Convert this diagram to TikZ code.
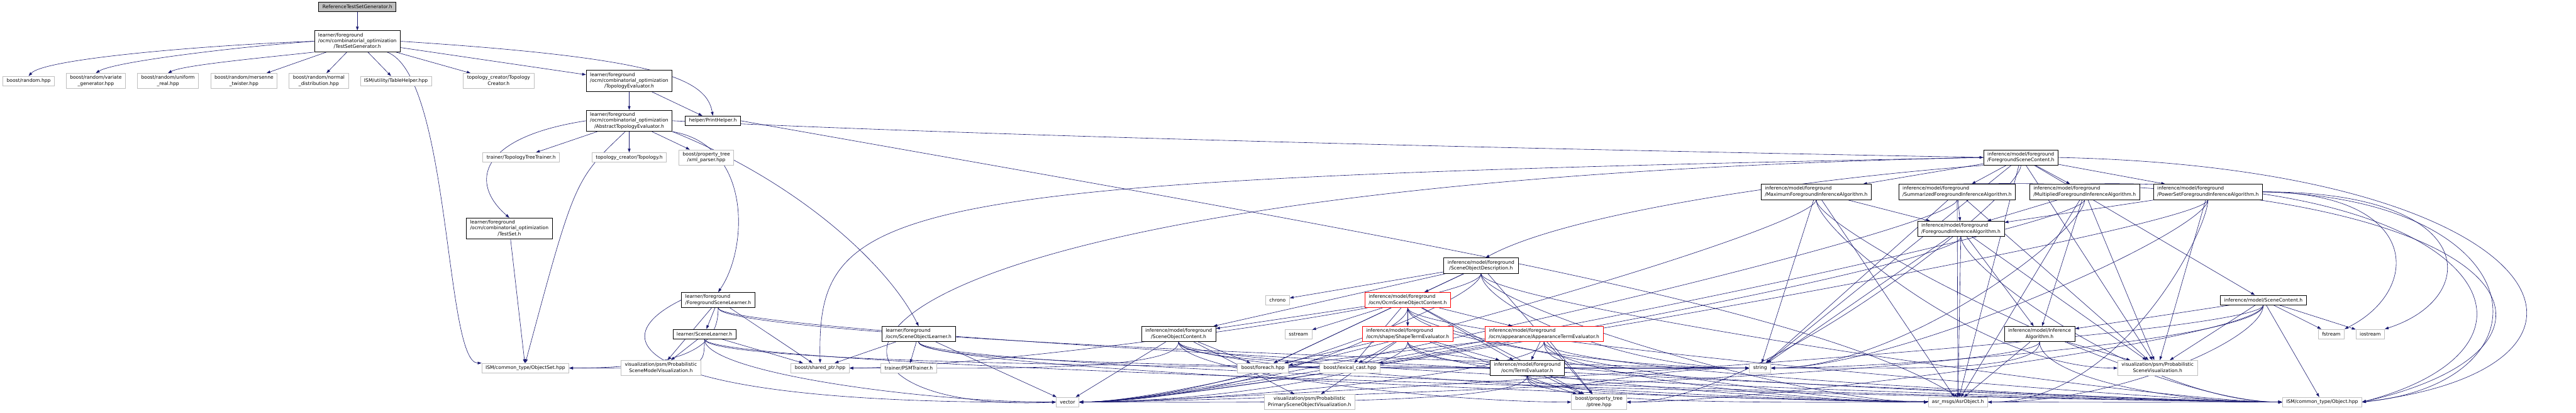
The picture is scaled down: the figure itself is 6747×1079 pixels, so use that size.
\documentclass[tikz,border=0pt]{standalone}
\usepackage{fontspec}
\setmainfont{DejaVu Sans}
\usetikzlibrary{arrows.meta,backgrounds}
\definecolor{ink}{HTML}{000000}
\definecolor{edgeblue}{HTML}{191970}
\definecolor{extgray}{HTML}{BFBFBF}
\definecolor{cutred}{HTML}{FF0000}
\newcommand{\fpath}[2]{\begin{tabular}{@{}l@{}}#1\\\multicolumn{1}{@{}c@{}}{#2}\end{tabular}}
\newcommand{\cpath}[1]{\begin{tabular}{@{}c@{}}#1\end{tabular}}
\tikzset{
  file/.style={draw=ink, line width=1.3pt, fill=white, inner xsep=10pt, inner ysep=4.5pt, minimum height=25pt, font=\fontsize{12.5}{15.5}\selectfont},
  extfile/.style={file, draw=extgray},
  cutfile/.style={file, draw=cutred},
  rootfile/.style={file, fill=extgray},
  dep/.style={-{Triangle[length=10pt,width=7pt]}, draw=edgeblue, line width=1pt},
  fromleft/.style={dep, to path={.. controls +(0,-100) and +(-#1,0) .. (\tikztotarget)}},
  fromleft/.default=350,
  fromright/.style={dep, to path={.. controls +(0,-100) and +(#1,0) .. (\tikztotarget)}},
  fromright/.default=350
}

\begin{document}
\begin{tikzpicture}[x=1pt, y=1pt]
  \useasboundingbox (0,0) rectangle (6747,-1079);

  % include tree of the test set generator
  \node[rootfile] (gen) at (936,-18) {ReferenceTestSetGenerator.h};
  \node[file] (tsgen) at (936,-108) {\fpath{learner/foreground\\/ocm/combinatorial\_optimization}{/TestSetGenerator.h}};
  \node[extfile] (brand) at (75,-212) {boost/random.hpp};
  \node[extfile] (bvar) at (251,-212) {\cpath{boost/random/variate\\\_generator.hpp}};
  \node[extfile] (buni) at (440,-212) {\cpath{boost/random/uniform\\\_real.hpp}};
  \node[extfile] (bmer) at (639,-212) {\cpath{boost/random/mersenne\\\_twister.hpp}};
  \node[extfile] (bnorm) at (835,-212) {\cpath{boost/random/normal\\\_distribution.hpp}};
  \node[extfile] (tblh) at (1037,-212) {ISM/utility/TableHelper.hpp};
  \node[extfile] (tcreat) at (1306,-212) {\cpath{topology\_creator/Topology\\Creator.h}};
  \node[file] (toeval) at (1648,-212) {\fpath{learner/foreground\\/ocm/combinatorial\_optimization}{/TopologyEvaluator.h}};
  \node[file] (abseval) at (1648,-316) {\fpath{learner/foreground\\/ocm/combinatorial\_optimization}{/AbstractTopologyEvaluator.h}};
  \node[file] (prnth) at (1867,-316) {helper/PrintHelper.h};
  \node[extfile] (tttr) at (1365,-412) {trainer/TopologyTreeTrainer.h};
  \node[extfile] (topo) at (1648,-412) {topology\_creator/Topology.h};
  \node[extfile] (xmlp) at (1850,-412) {\cpath{boost/property\_tree\\/xml\_parser.hpp}};
  \node[file] (tset) at (1334,-598) {\fpath{learner/foreground\\/ocm/combinatorial\_optimization}{/TestSet.h}};
  \node[extfile] (objset) at (1376,-963) {ISM/common\_type/ObjectSet.hpp};

  % learners
  \node[file] (fsclearn) at (1881,-785) {\fpath{learner/foreground}{/ForegroundSceneLearner.h}};
  \node[file] (sclearn) at (1845,-874) {learner/SceneLearner.h};
  \node[extfile] (psmvis) at (1731,-963) {\cpath{visualization/psm/Probabilistic\\SceneModelVisualization.h}};
  \node[extfile] (shptr) at (2148,-963) {boost/shared\_ptr.hpp};
  \node[file] (sobjlearn) at (2406,-874) {\fpath{learner/foreground}{/ocm/SceneObjectLearner.h}};
  \node[extfile] (psmtr) at (2380,-963) {trainer/PSMTrainer.h};
  \node[extfile] (vec) at (2796,-1052) {vector};

  % scene object content
  \node[file] (socont) at (3087,-874) {\fpath{inference/model/foreground}{/SceneObjectContent.h}};
  \node[extfile] (chrono) at (3346,-785) {chrono};
  \node[cutfile] (ocmsoc) at (3687,-785) {\fpath{inference/model/foreground}{/ocm/OcmSceneObjectContent.h}};
  \node[extfile] (sstr) at (3401,-874) {sstream};
  \node[cutfile] (shapete) at (3687,-874) {\fpath{inference/model/foreground}{/ocm/shape/ShapeTermEvaluator.h}};
  \node[extfile] (bforeach) at (3308,-963) {boost/foreach.hpp};
  \node[extfile] (lexcast) at (3536,-963) {boost/lexical\_cast.hpp};
  \node[extfile] (ppsovis) at (3430,-1052) {\cpath{visualization/psm/Probabilistic\\PrimarySceneObjectVisualization.h}};
  \node[file] (sodesc) at (3879,-695) {\fpath{inference/model/foreground}{/SceneObjectDescription.h}};
  \node[cutfile] (appte) at (4044,-874) {\fpath{inference/model/foreground}{/ocm/appearance/AppearanceTermEvaluator.h}};
  \node[file] (termev) at (4000,-963) {\fpath{inference/model/foreground}{/ocm/TermEvaluator.h}};
  \node[extfile] (ptree) at (4188,-1052) {\cpath{boost/property\_tree\\/ptree.hpp}};

  % inference algorithms
  \node[file] (fgsc) at (5293,-412) {\fpath{inference/model/foreground}{/ForegroundSceneContent.h}};
  \node[file] (maxfia) at (4757,-502) {\fpath{inference/model/foreground}{/MaximumForegroundInferenceAlgorithm.h}};
  \node[file] (sumfia) at (5126,-502) {\fpath{inference/model/foreground}{/SummarizedForegroundInferenceAlgorithm.h}};
  \node[file] (mulfia) at (5460,-502) {\fpath{inference/model/foreground}{/MultipliedForegroundInferenceAlgorithm.h}};
  \node[file] (psetfia) at (5783,-502) {\fpath{inference/model/foreground}{/PowerSetForegroundInferenceAlgorithm.h}};
  \node[file] (fia) at (5136,-599) {\fpath{inference/model/foreground}{/ForegroundInferenceAlgorithm.h}};
  \node[file] (infalg) at (5342,-874) {\cpath{inference/model/Inference\\Algorithm.h}};
  \node[file] (sccont) at (5928,-785) {inference/model/SceneContent.h};
  \node[extfile] (str) at (4610,-963) {string};
  \node[extfile] (asrobj) at (5128,-1052) {asr\_msgs/AsrObject.h};
  \node[extfile] (psvis) at (5651,-963) {\cpath{visualization/psm/Probabilistic\\SceneVisualization.h}};
  \node[extfile] (ismobj) at (6082,-1052) {ISM/common\_type/Object.hpp};
  \node[extfile] (fstr) at (6106,-874) {fstream};
  \node[extfile] (iostr) at (6208,-874) {iostream};

  \begin{scope}[on background layer]
    \fill[white] (0,0) rectangle (6747,-1079);
    % top tree
    \draw[dep] (gen) -- (tsgen);
    \draw[dep] (tsgen.west) .. controls (600,-115) and (120,-150) .. (brand.north);
    \draw[dep] (tsgen.west) .. controls (650,-120) and (300,-160) .. (bvar.north);
    \draw[dep] (tsgen.south west) .. controls (700,-150) and (480,-170) .. (buni.north);
    \path (tsgen) edge[dep] (bmer) edge[dep] (bnorm) edge[dep] (tblh) edge[dep] (tcreat) edge[dep] (toeval);
    \draw[dep] (tsgen.east) .. controls (1700,-150) and (1850,-200) .. (prnth.north);
    \draw[dep] (tsgen.-20) .. controls (1180,-200) and (1165,-950) .. (objset.north west);
    \path (toeval) edge[dep] (abseval) edge[dep] (prnth);
    \path (abseval) edge[dep] (tttr) edge[dep] (topo) edge[dep] (xmlp);
    \draw[dep] (abseval.west) .. controls (1250,-360) and (1230,-480) .. (tset.north);
    \draw[dep] (abseval.250) .. controls (1505,-470) .. (objset.north);
    \draw[dep] (tset) -- (objset);
    \draw[dep] (abseval.south east) .. controls (1970,-380) and (1960,-650) .. (fsclearn.north);
    \draw[dep] (abseval.south east) .. controls (2100,-480) and (2330,-700) .. (sobjlearn.north);
    \draw[dep] (abseval.east) .. controls (2800,-365) and (4300,-395) .. (fgsc.west);
    \draw[dep] (prnth.east) .. controls (3600,-610) and (4750,-800) .. (asrobj.north);

    % scene content
    \path (fgsc) edge[dep] (maxfia) edge[dep] (sumfia) edge[dep] (mulfia) edge[dep] (psetfia)
      edge[dep] (sccont) edge[dep] (str) edge[dep] (asrobj) edge[dep] (psvis) edge[fromright] (ptree.east);
    \draw[dep] (fgsc.south west) .. controls (4700,-470) and (4100,-560) .. (sodesc.60);
    \draw[dep] (fgsc.west) .. controls (2300,-470) and (2140,-520) .. (shptr.north);
    \draw[dep] (fgsc.west) .. controls (1950,-480) and (1980,-1090) .. (vec.west);
    \draw[dep] (fgsc.east) .. controls (6700,-440) and (6950,-960) .. (ismobj.east);

    \path (maxfia) edge[dep] (fia) edge[dep] (str) edge[dep] (asrobj) edge[fromleft] (psvis.west)
      edge[fromright] (vec.east) edge[fromleft] (ismobj.west);
    \path (sumfia) edge[dep] (fia) edge[dep] (str) edge[dep] (asrobj) edge[dep] (psvis) edge[fromright] (vec.east);
    \path (mulfia) edge[dep] (fia) edge[dep] (asrobj) edge[dep] (psvis) edge[dep] (infalg)
      edge[fromright] (str.east) edge[fromright] (vec.east);
    \path (psetfia) edge[dep] (fia) edge[dep] (psvis) edge[fromright] (str.east) edge[fromright] (asrobj.east)
      edge[fromright] (vec.east);
    \draw[dep] (sumfia.north) .. controls (6600,-455) and (6850,-900) .. (ismobj.east);
    \draw[dep] (mulfia.north) .. controls (6500,-460) and (6760,-900) .. (ismobj.east);
    \draw[dep] (psetfia.east) .. controls (6650,-520) and (6700,-1000) .. (ismobj.east);
    \draw[dep] (psetfia.east) .. controls (6345,-505) and (6345,-760) .. (fstr.north east);
    \draw[dep] (psetfia.east) .. controls (6500,-500) and (6500,-780) .. (iostr.north east);
    \path (fia) edge[dep] (infalg) edge[dep] (str) edge[dep] (asrobj) edge[dep] (psvis)
      edge[fromleft] (ismobj.west) edge[fromright] (vec.east);
    \path (infalg) edge[dep] (psvis) edge[dep] (asrobj) edge[fromright] (str.east) edge[fromleft] (ismobj.west)
      edge[fromright] (vec.east);
    \path (sccont) edge[dep] (infalg) edge[dep] (psvis) edge[dep] (ismobj) edge[dep] (fstr) edge[dep] (iostr)
      edge[fromright] (str.east) edge[fromright] (asrobj.east) edge[fromright] (vec.east) edge[fromright] (ptree.east);

    % scene objects
    \path (sodesc) edge[dep] (ocmsoc) edge[dep] (socont) edge[dep] (chrono) edge[dep] (bforeach) edge[dep] (ptree)
      edge[fromright] (vec.east) edge[fromleft] (str.west) edge[fromleft] (asrobj.west) edge[fromleft] (ismobj.west)
      edge[fromright] (shptr.east);
    \path (ocmsoc) edge[dep] (socont) edge[dep] (sstr) edge[dep] (lexcast) edge[dep] (shapete) edge[dep] (appte)
      edge[dep] (termev) edge[dep] (bforeach) edge[dep] (ptree) edge[fromright] (vec.east) edge[fromleft] (str.west)
      edge[fromleft] (asrobj.west) edge[fromleft] (ismobj.west);
    \path (shapete) edge[dep] (bforeach) edge[dep] (lexcast) edge[dep] (termev) edge[dep] (ptree) edge[dep] (ppsovis)
      edge[fromright] (vec.east) edge[fromleft] (str.west) edge[fromleft] (asrobj.west) edge[fromleft] (ismobj.west);
    \path (appte) edge[dep] (termev) edge[dep] (ptree) edge[dep] (bforeach) edge[dep] (lexcast)
      edge[fromright] (vec.east) edge[fromleft] (str.west) edge[fromleft] (asrobj.west) edge[fromleft] (ismobj.west);
    \path (termev) edge[dep] (ptree) edge[fromright] (vec.east) edge[fromleft] (str.west) edge[fromleft] (asrobj.west)
      edge[fromleft] (ismobj.west);
    \path (socont) edge[dep] (bforeach) edge[dep] (ppsovis) edge[dep] (vec) edge[fromleft] (str.west)
      edge[fromleft] (ptree.west) edge[fromleft] (asrobj.west) edge[fromleft] (ismobj.west) edge[fromright] (shptr.east);

    % learners
    \path (fsclearn) edge[dep] (sclearn) edge[dep] (psmvis) edge[dep] (shptr) edge[fromright] (objset.east)
      edge[fromleft] (str.west) edge[fromleft] (ismobj.west);
    \draw[dep] (fsclearn.west) .. controls (1550,-900) and (1700,-1060) .. (vec.west);
    \path (sclearn) edge[dep] (psmvis) edge[dep] (shptr) edge[fromright] (objset.east) edge[fromleft] (vec.west)
      edge[fromleft] (str.west) edge[fromleft] (ismobj.west);
    \path (sobjlearn) edge[dep] (psmtr) edge[dep] (shptr) edge[dep] (vec) edge[fromleft] (str.west)
      edge[fromleft] (asrobj.west) edge[fromleft] (ismobj.west);
  \end{scope}
\end{tikzpicture}
\end{document}
